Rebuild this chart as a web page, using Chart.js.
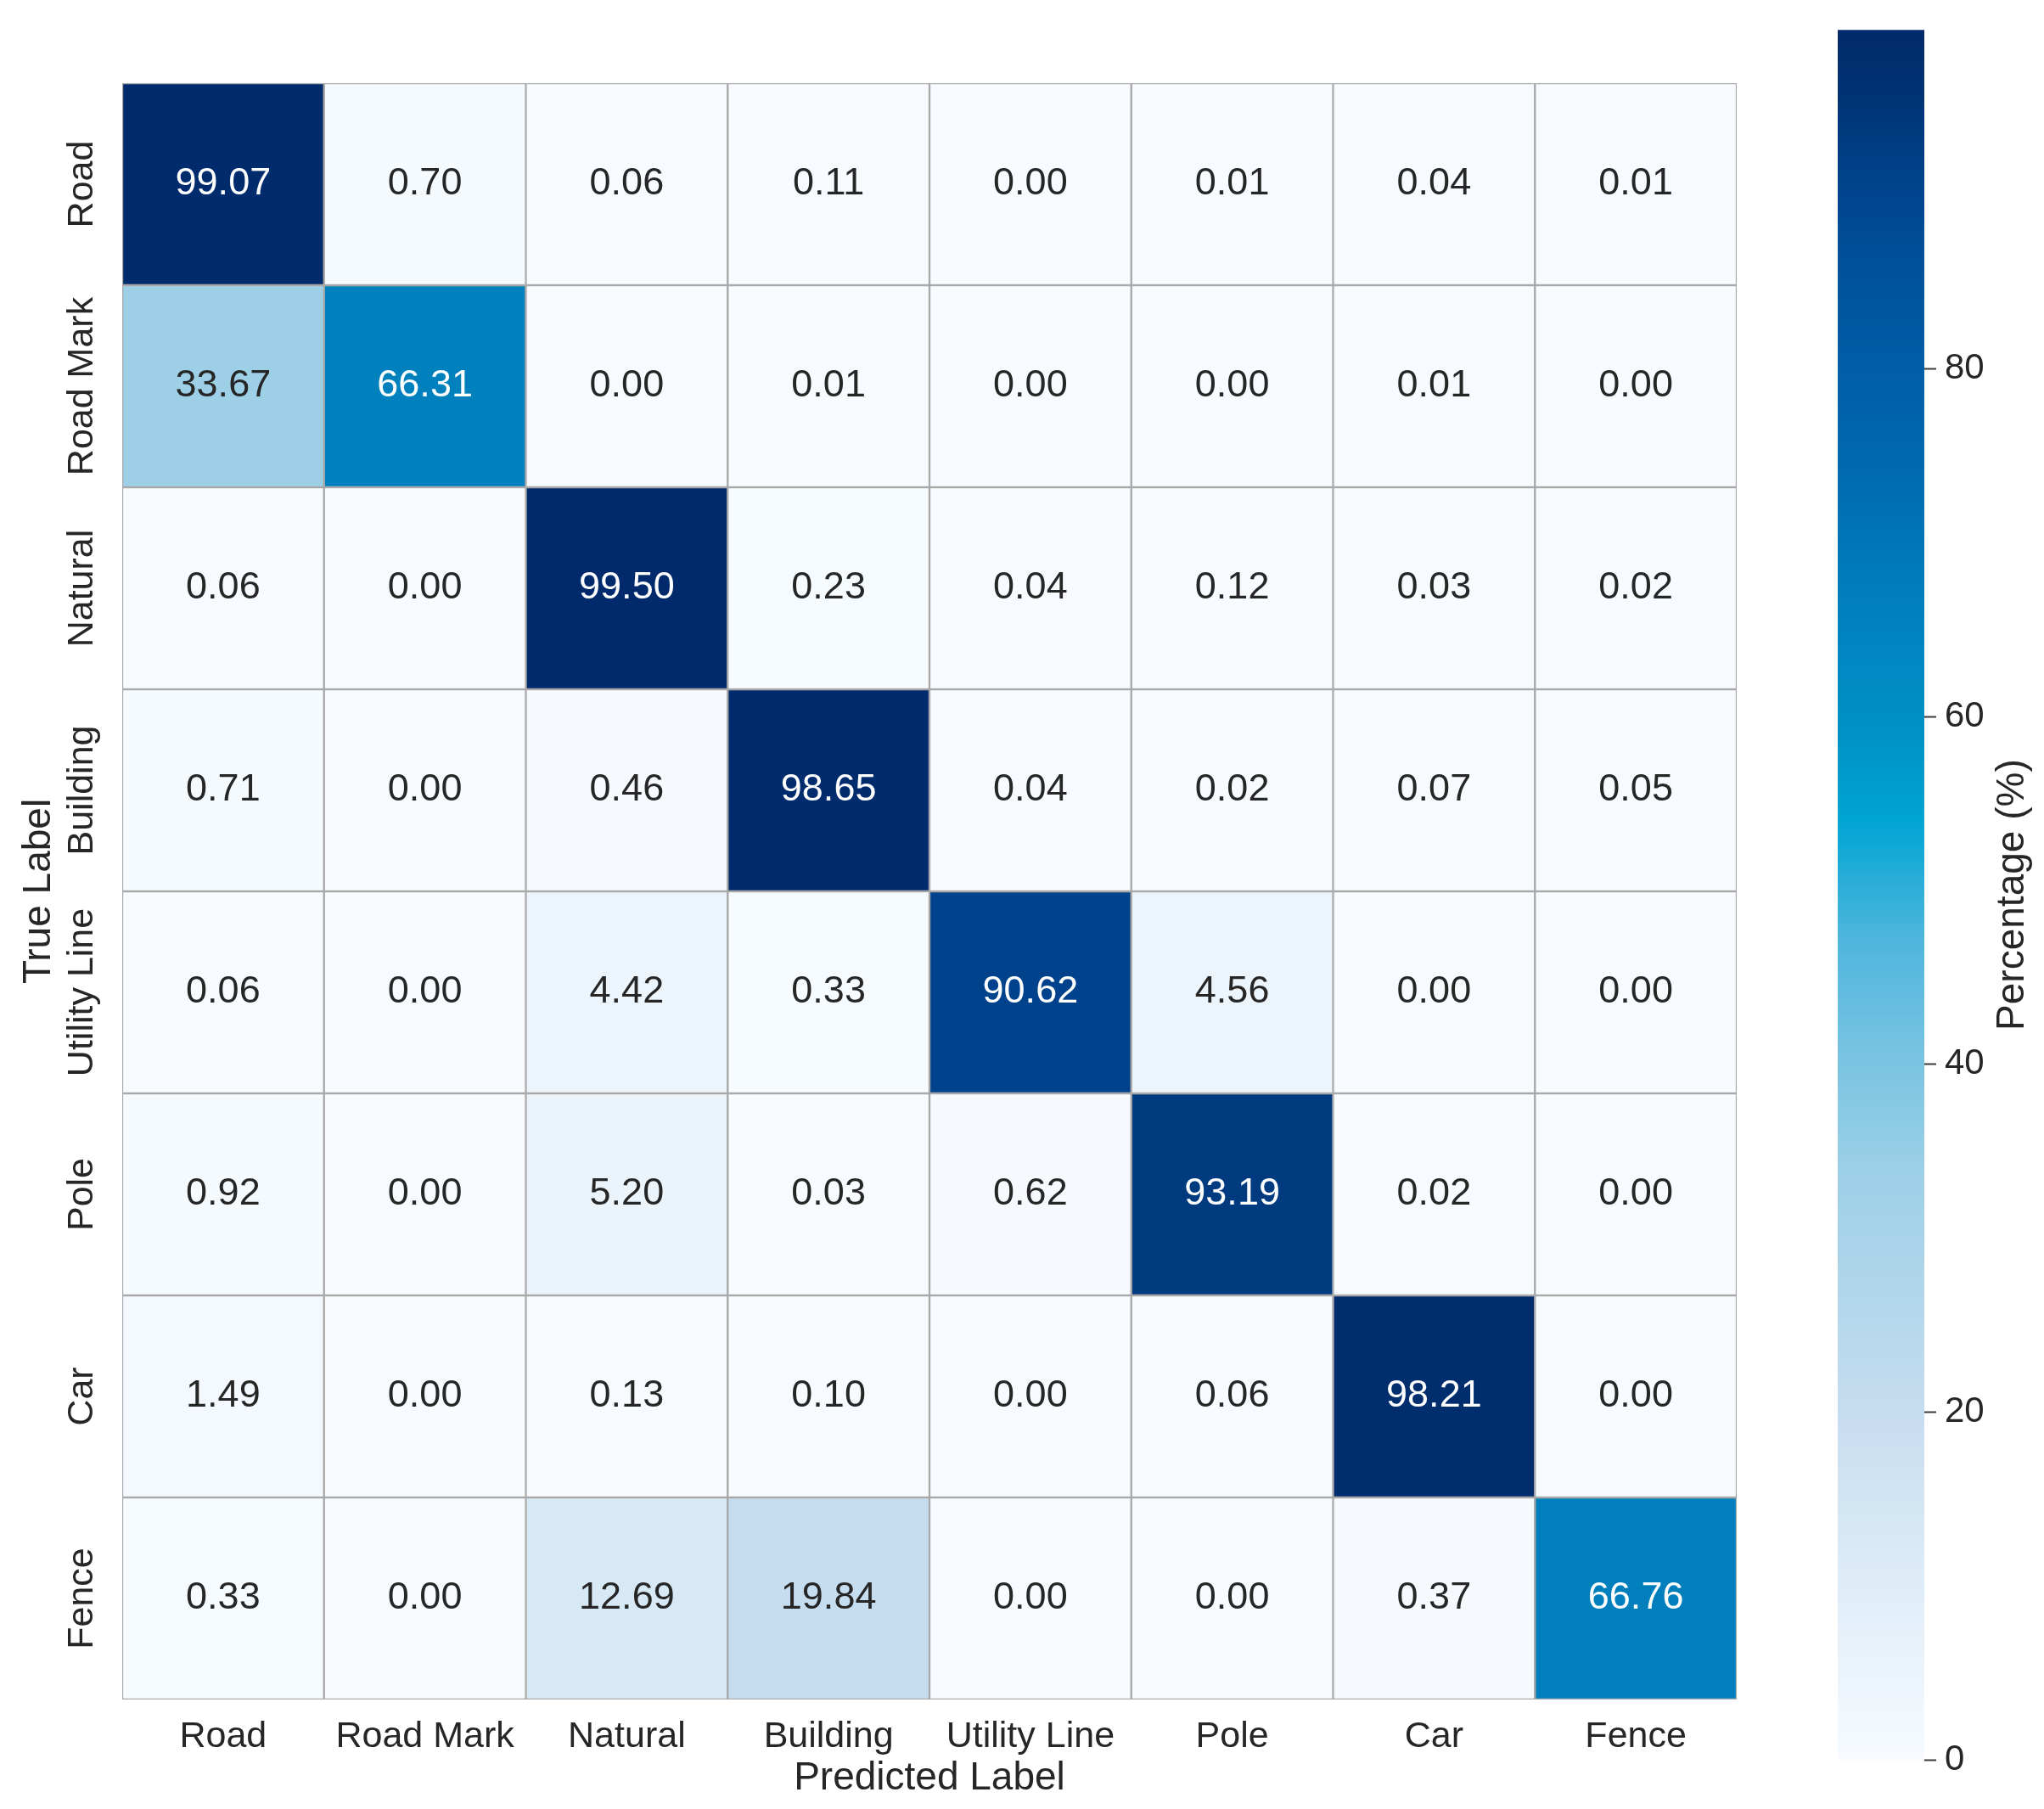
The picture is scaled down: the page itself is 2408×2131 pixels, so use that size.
<!DOCTYPE html>
<html>
<head>
<meta charset="utf-8">
<script src="https://cdn.jsdelivr.net/npm/chart.js@4"></script>
<style>
    html, body { margin: 0; padding: 0; background: #ffffff; }
    #page { position: relative; width: 2408px; height: 2131px; }
    #cmBox { position: absolute; left: 0; top: 0; width: 2150px; height: 2131px; }
    #cbBox { position: absolute; left: 2150px; top: 0; width: 258px; height: 2131px; }
</style>
</head>
<body>
<div id="page">
    <div id="cmBox"><canvas id="confusionChart"></canvas></div>
    <div id="cbBox"><canvas id="colorbarChart"></canvas></div>
</div>
<script>
// Class names (predicted = columns, true = rows)
const predictedLabels = ['Road', 'Road Mark', 'Natural', 'Building', 'Utility Line', 'Pole', 'Car', 'Fence'];
const trueLabels = ['Road', 'Road Mark', 'Natural', 'Building', 'Utility Line', 'Pole', 'Car', 'Fence'];

// Percentages per true class
const rowRoad        = [99.07, 0.70, 0.06, 0.11, 0.00, 0.01, 0.04, 0.01];
const rowRoadMark    = [33.67, 66.31, 0.00, 0.01, 0.00, 0.00, 0.01, 0.00];
const rowNatural     = [0.06, 0.00, 99.50, 0.23, 0.04, 0.12, 0.03, 0.02];
const rowBuilding    = [0.71, 0.00, 0.46, 98.65, 0.04, 0.02, 0.07, 0.05];
const rowUtilityLine = [0.06, 0.00, 4.42, 0.33, 90.62, 4.56, 0.00, 0.00];
const rowPole        = [0.92, 0.00, 5.20, 0.03, 0.62, 93.19, 0.02, 0.00];
const rowCar         = [1.49, 0.00, 0.13, 0.10, 0.00, 0.06, 98.21, 0.00];
const rowFence       = [0.33, 0.00, 12.69, 19.84, 0.00, 0.00, 0.37, 66.76];

const colorbarTicks = [0, 20, 40, 60, 80];
const colorbarMin = 0;
const colorbarMax = 99.50;

const rows = [rowRoad, rowRoadMark, rowNatural, rowBuilding, rowUtilityLine, rowPole, rowCar, rowFence];

// Colour map stops (fraction of range -> colour)
const cmapStops = [
    [0.000, '#f7fbff'], [0.084, '#e3eff9'], [0.134, '#d6e8f5'], [0.201, '#c6dcef'],
    [0.280, '#aed5ea'], [0.338, '#9dd0e7'], [0.378, '#88c9e4'], [0.427, '#6cbfe0'],
    [0.476, '#4db5dc'], [0.543, '#00a5d4'], [0.587, '#0093c7'], [0.647, '#0085c0'],
    [0.696, '#0078b8'], [0.746, '#006aaf'], [0.804, '#005ea6'], [0.867, '#00509a'],
    [0.916, '#00428a'], [0.965, '#003273'], [1.000, '#002a6b']
];

const TEXT_DARK = '#262626';
const FONT = '"Liberation Sans", Arial, sans-serif';

function hexToRgb(h) {
    return [parseInt(h.slice(1, 3), 16), parseInt(h.slice(3, 5), 16), parseInt(h.slice(5, 7), 16)];
}

function colorFor(v) {
    const t = Math.max(0, Math.min(1, (v - colorbarMin) / (colorbarMax - colorbarMin)));
    for (let k = 1; k < cmapStops.length; k++) {
        const [t1, c1] = cmapStops[k];
        if (t <= t1) {
            const [t0, c0] = cmapStops[k - 1];
            const f = (t - t0) / (t1 - t0);
            const a = hexToRgb(c0), b = hexToRgb(c1);
            const m = a.map((x, i) => Math.round(x + (b[i] - x) * f));
            return `rgb(${m[0]}, ${m[1]}, ${m[2]})`;
        }
    }
    return cmapStops[cmapStops.length - 1][1];
}

// One dataset per true-label row, floating bars spanning [row, row + 1]
const datasets = rows.map((row, i) => ({
    label: trueLabels[i],
    data: row.map(() => [i, i + 1]),
    backgroundColor: row.map(v => colorFor(v)),
    borderColor: '#a8a8a8',
    borderWidth: 1.5,
    borderSkipped: false,
    grouped: false,
    barPercentage: 1,
    categoryPercentage: 1
}));

// Cell annotations and rotated row labels
const cellTextPlugin = {
    id: 'cellText',
    afterDatasetsDraw(chart) {
        const ctx = chart.ctx;
        ctx.save();
        ctx.textAlign = 'center';
        ctx.textBaseline = 'middle';
        ctx.font = `45px ${FONT}`;
        rows.forEach((row, i) => {
            const meta = chart.getDatasetMeta(i);
            meta.data.forEach((bar, j) => {
                const v = row[j];
                const p = bar.getProps(['x', 'y', 'base'], true);
                ctx.fillStyle = v > 50 ? '#ffffff' : TEXT_DARK;
                ctx.fillText(v.toFixed(2), p.x, (p.y + p.base) / 2);
            });
        });

        const yScale = chart.scales.y;
        ctx.font = `43px ${FONT}`;
        ctx.fillStyle = TEXT_DARK;
        trueLabels.forEach((lab, i) => {
            ctx.save();
            ctx.translate(97, yScale.getPixelForValue(i + 0.5));
            ctx.rotate(-Math.PI / 2);
            ctx.fillText(lab, 0, 0);
            ctx.restore();
        });
        ctx.restore();
    }
};

new Chart(document.getElementById('confusionChart'), {
    type: 'bar',
    data: { labels: predictedLabels, datasets: datasets },
    plugins: [cellTextPlugin],
    options: {
        responsive: true,
        maintainAspectRatio: false,
        animation: false,
        layout: { padding: { top: 98, right: 104, bottom: 0, left: 0 } },
        plugins: {
            legend: { display: false },
            tooltip: { enabled: false }
        },
        scales: {
            x: {
                type: 'category',
                offset: true,
                grid: { display: false, drawTicks: false },
                border: { display: false },
                ticks: {
                    color: TEXT_DARK,
                    font: { family: FONT, size: 43 },
                    padding: 18,
                    maxRotation: 0,
                    autoSkip: false
                },
                title: {
                    display: true,
                    text: 'Predicted Label',
                    color: TEXT_DARK,
                    font: { family: FONT, size: 46 },
                    padding: { top: 0, bottom: 8 }
                },
                afterFit: (scale) => { scale.height = 129; }
            },
            y: {
                type: 'linear',
                min: 0,
                max: 8,
                reverse: true,
                grid: { display: false, drawTicks: false },
                border: { display: false },
                ticks: { display: false },
                title: {
                    display: true,
                    text: 'True Label',
                    color: TEXT_DARK,
                    font: { family: FONT, size: 46 },
                    padding: { top: 19, bottom: 0 }
                },
                afterFit: (scale) => { scale.width = 144; }
            }
        }
    }
});

// Colour bar
const colorbarTitlePlugin = {
    id: 'colorbarTitle',
    afterDraw(chart) {
        const ctx = chart.ctx;
        const area = chart.chartArea;
        ctx.save();
        ctx.font = `46px ${FONT}`;
        ctx.fillStyle = TEXT_DARK;
        ctx.textAlign = 'center';
        ctx.textBaseline = 'middle';
        ctx.translate(221, (area.top + area.bottom) / 2);
        ctx.rotate(-Math.PI / 2);
        ctx.fillText('Percentage (%)', 0, 0);
        ctx.restore();
    }
};

new Chart(document.getElementById('colorbarChart'), {
    type: 'bar',
    data: {
        labels: [''],
        datasets: [{
            data: [[colorbarMin, colorbarMax]],
            backgroundColor: (c) => {
                const chart = c.chart;
                if (!chart.chartArea) return '#9dd0e7';
                const ys = chart.scales.y;
                const g = chart.ctx.createLinearGradient(0, ys.getPixelForValue(colorbarMin), 0, ys.getPixelForValue(colorbarMax));
                cmapStops.forEach(([t, col]) => g.addColorStop(t, col));
                return g;
            },
            borderWidth: 0,
            barPercentage: 1,
            categoryPercentage: 1
        }]
    },
    plugins: [colorbarTitlePlugin],
    options: {
        responsive: true,
        maintainAspectRatio: false,
        animation: false,
        layout: { padding: { top: 28, bottom: 58, left: 15, right: 0 } },
        plugins: {
            legend: { display: false },
            tooltip: { enabled: false }
        },
        scales: {
            x: { display: false },
            y: {
                position: 'right',
                min: colorbarMin,
                max: colorbarMax,
                afterBuildTicks: (scale) => { scale.ticks = colorbarTicks.map(v => ({ value: v })); },
                grid: { drawOnChartArea: false, tickLength: 14, tickColor: '#3a3a3a', tickWidth: 2 },
                border: { display: false },
                ticks: {
                    color: TEXT_DARK,
                    font: { family: FONT, size: 42 },
                    padding: 10
                },
                afterFit: (scale) => { scale.width = 141; }
            }
        }
    }
});
</script>
</body>
</html>
